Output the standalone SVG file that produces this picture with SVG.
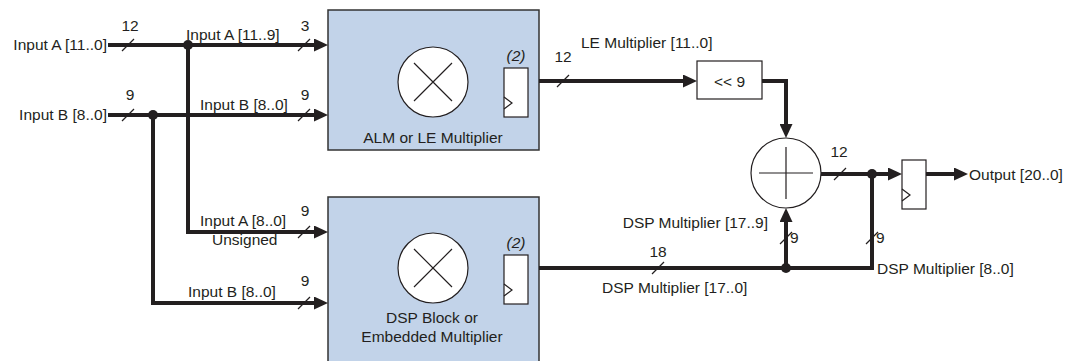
<svg xmlns="http://www.w3.org/2000/svg" width="1067" height="361" viewBox="0 0 1067 361">
<style>
text{font-family:"Liberation Sans",Arial,Helvetica,sans-serif;font-size:15.5px;fill:#231f20}
.it{font-style:italic}
.mid{text-anchor:middle}
.end{text-anchor:end}
.box{fill:#c2d3e9;stroke:#333;stroke-width:1.5}
.wht{fill:#fff;stroke:#231f20;stroke-width:1.2}
.thin{fill:none;stroke:#231f20;stroke-width:1.2}
.bus{fill:none;stroke:#231f20;stroke-width:4;stroke-linejoin:miter}
.arr{marker-end:url(#ah)}
.sl{stroke:#231f20;stroke-width:1.2}
.dot{fill:#231f20}
</style>
<defs>
<marker id="ah" markerUnits="userSpaceOnUse" markerWidth="14" markerHeight="13" refX="4" refY="6.5" orient="auto">
<path d="M0,0 L14,6.5 L0,13 Z" fill="#231f20"/>
</marker>
<path id="slash" d="M-6,6 L6,-6" class="sl"/>
<path id="clk" d="M0,-6 L8,0 L0,6" class="thin"/>
</defs>

<g id="alm">
<rect class="box" x="328" y="10" width="211" height="140"/>
<circle class="wht" cx="433" cy="82" r="35"/>
<path class="thin" d="M414,63 L452,101 M452,63 L414,101"/>
<rect class="wht" x="504" y="68" width="24" height="49"/>
<use href="#clk" x="504" y="103"/>
<text class="it mid" x="516" y="61">(2)</text>
<text class="mid" x="433" y="143">ALM or LE Multiplier</text>
</g>

<g id="dsp">
<rect class="box" x="328" y="197" width="211" height="175"/>
<circle class="wht" cx="433" cy="268" r="35"/>
<path class="thin" d="M414,249 L452,287 M452,249 L414,287"/>
<rect class="wht" x="504" y="255" width="24" height="49"/>
<use href="#clk" x="504" y="290"/>
<text class="it mid" x="516" y="248">(2)</text>
<text class="mid" x="432" y="323">DSP Block or</text>
<text class="mid" x="432" y="342">Embedded Multiplier</text>
</g>

<g id="shift">
<rect class="wht" x="697" y="61" width="65" height="38"/>
<text class="mid" x="729.5" y="87">&lt;&lt; 9</text>
</g>

<g id="adder">
<circle class="wht" cx="786" cy="173" r="35"/>
<path class="thin" d="M759,173 H813 M786,147 V199"/>
</g>

<g id="outreg">
<rect class="wht" x="902" y="160" width="24" height="49"/>
<use href="#clk" x="902" y="195"/>
</g>

<g id="connectors">
<path class="bus arr" d="M108,45 H318"/>
<path class="bus arr" d="M108,115 H318"/>
<path class="bus arr" d="M188,45 V232 H318"/>
<path class="bus arr" d="M153,115 V303 H318"/>
<path class="bus arr" d="M539,81 H687"/>
<path class="bus arr" d="M762,81 H786 V128"/>
<path class="bus" d="M539,268 H872 V174"/>
<path class="bus arr" d="M786,268 V218"/>
<path class="bus arr" d="M821,174 H892"/>
<path class="bus arr" d="M926,174 H958"/>
<circle class="dot" cx="188" cy="45" r="5"/>
<circle class="dot" cx="153" cy="115" r="5"/>
<circle class="dot" cx="786" cy="268" r="5"/>
<circle class="dot" cx="872" cy="174" r="5"/>
<use href="#slash" x="128" y="45"/>
<use href="#slash" x="304" y="45"/>
<use href="#slash" x="128" y="115"/>
<use href="#slash" x="304" y="115"/>
<use href="#slash" x="304" y="232"/>
<use href="#slash" x="304" y="303"/>
<use href="#slash" x="563" y="81"/>
<use href="#slash" x="840" y="174"/>
<use href="#slash" x="658" y="268"/>
<use href="#slash" x="786" y="238"/>
<use href="#slash" x="872" y="238"/>
</g>

<g id="labels">
<text class="end" x="107" y="50">Input A [11..0]</text>
<text class="end" x="107" y="120">Input B [8..0]</text>
<text class="mid" x="130" y="31">12</text>
<text class="mid" x="130" y="100">9</text>
<text class="mid" x="305" y="31">3</text>
<text class="mid" x="305" y="100">9</text>
<text x="186" y="40">Input A [11..9]</text>
<text x="200" y="110">Input B [8..0]</text>
<text class="mid" x="305" y="216">9</text>
<text x="200" y="226">Input A [8..0]</text>
<text x="212" y="245">Unsigned</text>
<text class="mid" x="305" y="286">9</text>
<text x="188" y="297">Input B [8..0]</text>
<text x="581" y="48">LE Multiplier [11..0]</text>
<text class="mid" x="563" y="62">12</text>
<text class="mid" x="839" y="157">12</text>
<text x="969" y="180">Output [20..0]</text>
<text class="end" x="768" y="228">DSP Multiplier [17..9]</text>
<text x="790" y="243">9</text>
<text x="876" y="243">9</text>
<text x="877" y="274">DSP Multiplier [8..0]</text>
<text class="mid" x="658" y="257">18</text>
<text x="602" y="293">DSP Multiplier [17..0]</text>
</g>
</svg>
